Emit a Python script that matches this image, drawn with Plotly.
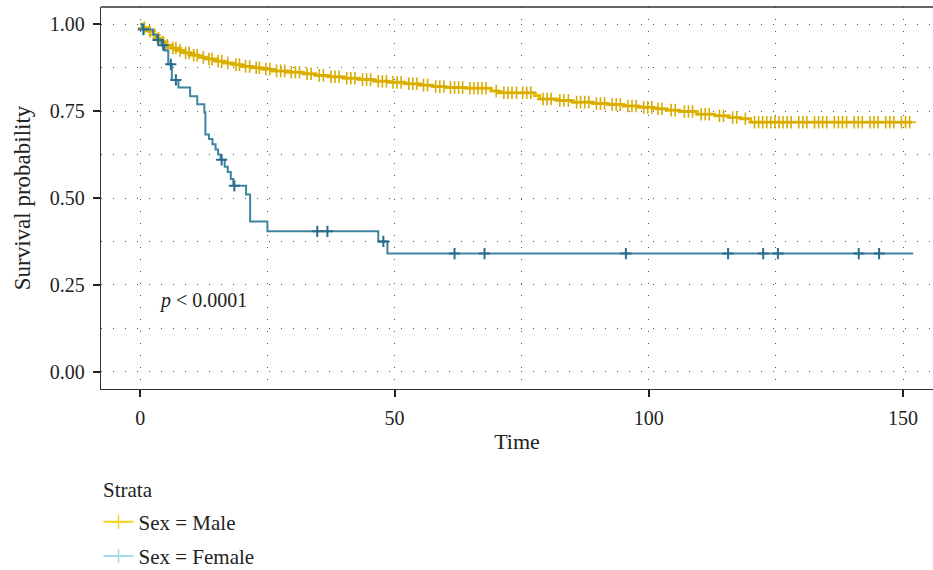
import numpy as np
import plotly.graph_objects as go

# ---- data ----
male_times = [0, 0.5, 1.5, 2.5, 3.2, 4.0, 4.8, 6.0, 7.2, 8.5, 10.0, 11.5, 13.0, 14.8, 16.5,
              18.3, 20.0, 22.0, 24.0, 26.0, 29.0, 32.0, 34.5, 37.0, 40.0, 43.0, 46.0, 49.0,
              52.0, 55.0, 57.5, 60.0, 64.0, 69.0, 70.5, 77.5, 78.5, 82.0, 85.0, 89.0, 92.0,
              95.0, 98.0, 101.0, 103.5, 106.0, 109.5, 113.0, 115.8, 118.0, 120.0]
male_surv = [1.0, 0.99, 0.98, 0.97, 0.96, 0.95, 0.94, 0.932, 0.925, 0.918, 0.911, 0.905, 0.90,
             0.894, 0.889, 0.884, 0.879, 0.875, 0.871, 0.866, 0.862, 0.858, 0.853, 0.849, 0.845,
             0.841, 0.836, 0.833, 0.829, 0.825, 0.821, 0.818, 0.816, 0.808, 0.803, 0.795, 0.785,
             0.781, 0.776, 0.772, 0.769, 0.765, 0.761, 0.757, 0.753, 0.749, 0.741, 0.737, 0.732,
             0.728, 0.718]
male_end = 151.8
male_censor = [0.8, 1.9, 2.8, 3.6, 4.4, 5.3, 6.4, 7.0, 7.8, 8.9, 9.6, 10.5, 11.2, 12.4, 13.5,
               14.1, 15.3, 16.0, 17.2, 18.8, 19.5, 20.7, 21.5, 22.8, 23.4, 24.7, 25.5, 26.8,
               27.6, 28.4, 29.7, 30.5, 31.3, 32.8, 33.6, 35.2, 36.0, 37.5, 38.3, 39.1, 40.6,
               41.4, 42.2, 43.7, 44.5, 45.3, 46.8, 47.6, 48.4, 49.7, 50.5, 51.3, 52.8, 53.6,
               54.4, 55.7, 56.5, 58.1, 58.9, 59.7, 61.0, 61.8, 62.6, 63.4, 64.8, 65.6, 66.4,
               67.2, 68.0, 70.0, 71.5, 72.3, 73.1, 74.0, 75.2, 76.0, 76.8, 79.2, 80.0, 80.8,
               82.5, 83.3, 84.2, 85.8, 86.6, 87.4, 88.2, 89.7, 90.5, 91.3, 92.8, 93.6, 94.4,
               95.9, 96.7, 97.5, 99.0, 99.8, 100.6, 101.8, 102.6, 104.4, 105.2, 107.0, 107.8,
               108.6, 110.3, 111.1, 111.9, 113.9, 114.7, 116.5, 117.3, 119.0, 120.8, 121.6,
               122.4, 123.2, 124.0, 124.8, 125.6, 126.4, 127.2, 128.0, 129.5, 130.3, 131.1,
               132.6, 133.4, 134.2, 135.0, 136.5, 137.3, 138.1, 138.9, 140.4, 141.2, 142.0,
               143.5, 144.3, 145.1, 146.6, 147.4, 148.2, 149.7, 150.5, 151.3]

female_times = [0, 0.4, 2.5, 3.3, 4.2, 4.8, 5.5, 6.2, 7.5, 9.8, 11.2, 12.6, 12.8, 13.5, 14.2,
                14.8, 15.3, 15.8, 16.6, 17.2, 17.8, 18.3, 20.8, 21.6, 25.0, 46.8, 48.6]
female_surv = [1.0, 0.985, 0.97, 0.955, 0.94, 0.925, 0.885, 0.84, 0.818, 0.793, 0.77, 0.746,
               0.683, 0.67, 0.655, 0.64, 0.625, 0.61, 0.59, 0.575, 0.555, 0.535, 0.51, 0.432,
               0.404, 0.375, 0.34]
female_end = 152.0
female_censor = [0.6, 3.5, 4.5, 6.0, 7.0, 16.0, 18.5, 34.8, 36.8, 47.8, 61.8, 67.7, 95.5,
                 115.6, 122.5, 125.4, 141.3, 145.3]

strata_names = ["Sex = Male", "Sex = Female"]
x_ticks = [0, 50, 100, 150]
y_ticks = [0.0, 0.25, 0.5, 0.75, 1.0]
y_tick_labels = ["0.00", "0.25", "0.50", "0.75", "1.00"]

FONT = "Liberation Serif"
MALE_LINE = "#E5BC00"
MALE_MARK = "#D8AC00"
FEM_LINE = "#3F84A2"
FEM_MARK = "#2A6C8C"
TXT = "#222"


def step_at(times, surv, t):
    idx = np.searchsorted(np.array(times), np.array(t), side="right") - 1
    return list(np.array(surv)[idx])


fig = go.Figure()

# Male curve
fig.add_trace(go.Scatter(x=male_times + [male_end], y=male_surv + [male_surv[-1]],
                         mode="lines", line=dict(color=MALE_LINE, width=3, shape="hv"),
                         showlegend=False, hoverinfo="skip"))
fig.add_trace(go.Scatter(x=male_censor, y=step_at(male_times, male_surv, male_censor),
                         mode="markers",
                         marker=dict(symbol="cross-thin", size=9,
                                     line=dict(color=MALE_MARK, width=1.6)),
                         showlegend=False, hoverinfo="skip"))
# Female curve
fig.add_trace(go.Scatter(x=female_times + [female_end], y=female_surv + [female_surv[-1]],
                         mode="lines", line=dict(color=FEM_LINE, width=2, shape="hv"),
                         showlegend=False, hoverinfo="skip"))
fig.add_trace(go.Scatter(x=female_censor, y=step_at(female_times, female_surv, female_censor),
                         mode="markers",
                         marker=dict(symbol="cross-thin", size=8,
                                     line=dict(color=FEM_MARK, width=2)),
                         showlegend=False, hoverinfo="skip"))

# Legend-only entries
for name, col, grp in [(strata_names[0], "#F2D21B", "a"), (strata_names[1], "#A3DCE6", "b")]:
    fig.add_trace(go.Scatter(x=[None], y=[None], mode="lines+markers", name=name,
                             legendgroup=grp,
                             line=dict(color=col, width=2),
                             marker=dict(symbol="cross-thin", size=10,
                                         line=dict(color=col, width=1.5))))

grid_dash = "1px,11px"
fig.update_xaxes(range=[-7.73, 155.9], tickvals=x_ticks, ticks="outside", ticklen=7,
                 tickwidth=2, tickcolor=TXT, showline=True, linecolor="#333", linewidth=1.3,
                 showgrid=True, gridcolor="#555", gridwidth=1, griddash=grid_dash,
                 minor=dict(dtick=25, tick0=0, showgrid=True, gridcolor="#555", gridwidth=1,
                            griddash=grid_dash, ticks=""),
                 zeroline=False, tickfont=dict(family=FONT, size=20, color=TXT),
                 ticklabelstandoff=4, automargin=False,
                 title=dict(text="Time", font=dict(family=FONT, size=22, color=TXT),
                            standoff=5))
fig.update_yaxes(range=[-0.05, 1.05], tickvals=y_ticks, ticktext=y_tick_labels,
                 ticks="outside", ticklen=7, tickwidth=2, tickcolor=TXT, showline=True,
                 linecolor="#333", linewidth=1.3, showgrid=True, gridcolor="#555", gridwidth=1,
                 griddash=grid_dash,
                 minor=dict(dtick=0.125, tick0=0, showgrid=True, gridcolor="#555", gridwidth=1,
                            griddash=grid_dash, ticks=""),
                 zeroline=False, tickfont=dict(family=FONT, size=20, color=TXT),
                 ticklabelstandoff=4, automargin=False,
                 title=dict(text="Survival probability",
                            font=dict(family=FONT, size=23, color=TXT), standoff=12))

fig.add_shape(type="line", xref="paper", yref="paper", x0=0, x1=1, y0=1, y1=1,
              line=dict(color="#333", width=1.3))

fig.add_annotation(x=3.3, y=0.205, xref="x", yref="y", text="<i>p</i> &lt; 0.0001",
                   showarrow=False, xanchor="left", yanchor="middle",
                   font=dict(family=FONT, size=20, color=TXT))

# legend title as text
fig.add_annotation(x=0.0, y=-0.264, xref="paper", yref="paper", text="Strata",
                   showarrow=False, xanchor="left", yanchor="middle",
                   font=dict(family=FONT, size=21, color=TXT))

fig.update_layout(
    width=933, height=570,
    margin=dict(l=101, r=0, t=7, b=181, autoexpand=False),
    plot_bgcolor="white", paper_bgcolor="white",
    font=dict(family=FONT, color=TXT),
    legend=dict(x=-0.003, xanchor="left", yref="container", y=0.12, yanchor="top",
                font=dict(family=FONT, size=21, color=TXT),
                traceorder="grouped", tracegroupgap=4, itemwidth=30,
                bgcolor="rgba(0,0,0,0)"),
)

fig.write_html("out.html")
